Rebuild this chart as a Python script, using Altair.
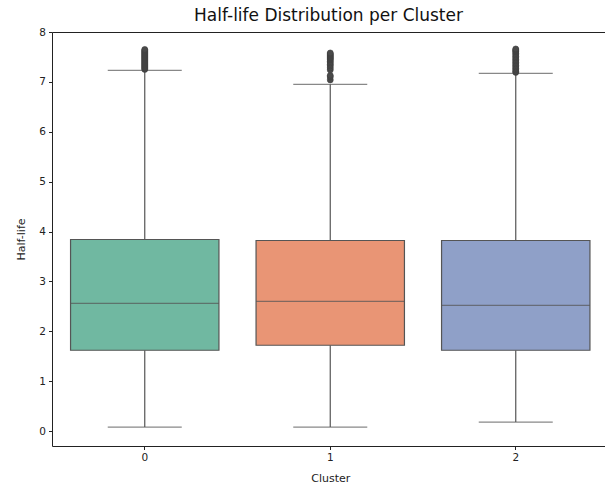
import altair as alt
import pandas as pd

clusters = ["0", "1", "2"]
q1 = [1.62, 1.72, 1.62]
median = [2.56, 2.60, 2.52]
q3 = [3.84, 3.82, 3.82]
whisker_low = [0.08, 0.08, 0.18]
whisker_high = [7.23, 6.95, 7.17]
colors = ["#70b8a1", "#e99575", "#8fa0c8"]

outliers_0 = [7.25, 7.27, 7.29, 7.31, 7.33, 7.35, 7.37, 7.39, 7.41, 7.43, 7.45,
              7.47, 7.49, 7.51, 7.53, 7.55, 7.57, 7.59, 7.61, 7.63, 7.65]
outliers_1 = [7.04, 7.10, 7.13, 7.24, 7.28, 7.32, 7.35, 7.38, 7.41, 7.44, 7.46,
              7.48, 7.50, 7.52, 7.54, 7.56, 7.58]
outliers_2 = [7.19, 7.21, 7.24, 7.27, 7.30, 7.33, 7.36, 7.39, 7.42, 7.45, 7.48,
              7.51, 7.54, 7.57, 7.60, 7.62, 7.64, 7.66]

stats = pd.DataFrame({
    "cluster": clusters, "q1": q1, "median": median, "q3": q3,
    "lo": whisker_low, "hi": whisker_high,
})
out = pd.DataFrame({
    "cluster": ["0"] * len(outliers_0) + ["1"] * len(outliers_1) + ["2"] * len(outliers_2),
    "value": outliers_0 + outliers_1 + outliers_2,
})

LINE = "#555555"
FONT = "DejaVu Sans"

xscale = alt.Scale(domain=clusters, range=[0, 556.5], paddingInner=0.2, paddingOuter=0.1)
yscale = alt.Scale(domain=[-0.30, 8.0], nice=False, zero=False)

x = alt.X("cluster:N", scale=xscale, title="Cluster",
          axis=alt.Axis(labelAngle=0, domain=False, titlePadding=9))
y_axis = alt.Axis(values=[0, 1, 2, 3, 4, 5, 6, 7, 8], domain=False, grid=False,
                  titlePadding=12)

base = alt.Chart(stats)

whisk_low = base.mark_rule(color=LINE, strokeWidth=1.2).encode(
    x=x, y=alt.Y("lo:Q", scale=yscale, axis=y_axis, title="Half-life"), y2="q1:Q")
whisk_high = base.mark_rule(color=LINE, strokeWidth=1.2).encode(
    x=x, y=alt.Y("q3:Q", scale=yscale), y2="hi:Q")
box = base.mark_bar(stroke=LINE, strokeWidth=1.2, opacity=1).encode(
    x=x, y=alt.Y("q1:Q", scale=yscale), y2="q3:Q",
    color=alt.Color("cluster:N", scale=alt.Scale(domain=clusters, range=colors), legend=None))
med = base.mark_tick(color=LINE, size=148.4, thickness=1.3, orient="horizontal").encode(
    x=x, y=alt.Y("median:Q", scale=yscale))
cap_lo = base.mark_tick(color=LINE, size=74, thickness=1.3, orient="horizontal").encode(
    x=x, y=alt.Y("lo:Q", scale=yscale))
cap_hi = base.mark_tick(color=LINE, size=74, thickness=1.3, orient="horizontal").encode(
    x=x, y=alt.Y("hi:Q", scale=yscale))
fliers = alt.Chart(out).mark_point(shape="circle", filled=True, size=36,
                                   color="#4a4a4a", opacity=1,
                                   stroke="#3d3d3d", strokeWidth=0.6).encode(
    x=x, y=alt.Y("value:Q", scale=yscale))

chart = alt.layer(whisk_low, whisk_high, box, med, cap_lo, cap_hi, fliers).properties(
    width=553, height=414,
    title=alt.Title("Half-life Distribution per Cluster", fontSize=17, font=FONT,
                    fontWeight="normal", color="#111", offset=2),
    autosize=alt.AutoSizeParams(type="none"),
    padding={"left": 52, "top": 32, "right": 0, "bottom": 45},
).configure_view(
    stroke="#222", strokeWidth=1
).configure_axis(
    labelFont=FONT, titleFont=FONT, labelFontSize=10.5, titleFontSize=11,
    titleFontWeight="normal", labelColor="#222", titleColor="#222",
    tickColor="#222", tickSize=3.5, labelPadding=3, grid=False,
)

chart.save("out.html", embed_options={"renderer": "svg", "actions": False})
